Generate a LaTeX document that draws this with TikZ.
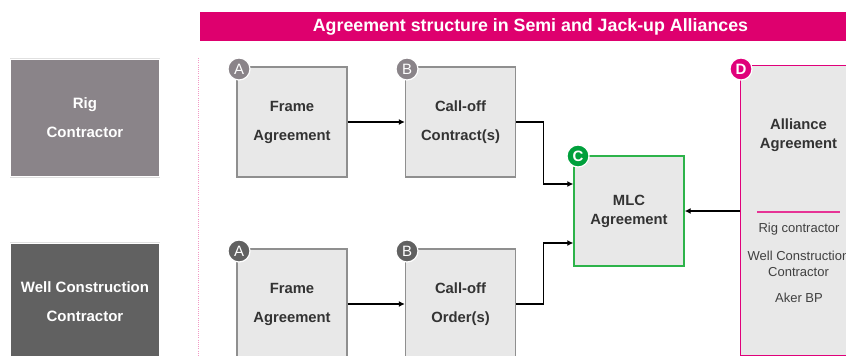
\documentclass[tikz,border=0pt]{standalone}
\usepackage{fontspec}
\setmainfont{Liberation Sans}
\usetikzlibrary{arrows.meta}
\definecolor{brandmag}{HTML}{DE006E}
\definecolor{allmag}{HTML}{E0007A}
\definecolor{rigcol}{HTML}{8A8489}
\definecolor{wellcol}{HTML}{616161}
\definecolor{boxfill}{HTML}{E8E8E8}
\definecolor{boxline}{HTML}{8F8F8F}
\definecolor{mlcgreen}{HTML}{2DB34A}
\definecolor{badgegreen}{HTML}{00A03C}
\tikzset{
  partybox/.style={minimum width=148pt, text=white, align=center,
    font=\fontsize{15}{29}\selectfont\bfseries, inner sep=0pt},
  docbox/.style={draw=boxline, line width=1.4pt, fill=boxfill,
    minimum width=110pt, minimum height=110pt, align=center, inner sep=0pt,
    font=\fontsize{14.8}{29}\selectfont\bfseries, text=black!80},
  badge/.style={circle, draw=white, line width=1.2pt, minimum size=22pt,
    inner sep=0pt, text=white, font=\fontsize{15}{15}\selectfont},
  conn/.style={line width=1.4pt, -{Latex[length=6pt,width=6pt]}},
  plain/.style={font=\fontsize{13}{16}\selectfont, text=black!75, align=center},
}
\begin{document}
\begin{tikzpicture}[x=1pt,y=-1pt]
\useasboundingbox (0,0) rectangle (846,356);
\clip (0,0) rectangle (846,356);

% title bar
\node[fill=brandmag, minimum width=646pt, minimum height=29pt, inner sep=0pt,
  anchor=north west] (titlebar) at (200,12) {};
\node[text=white, font=\fontsize{17.8}{20}\selectfont\bfseries] (title)
  at (530.5,27) {Agreement structure in Semi and Jack-up Alliances};

% parties on the left
\draw[black!12, line width=1pt] (10,58.5) -- (160,58.5);
\draw[black!12, line width=1pt] (10,177) -- (160,177);
\node[partybox, fill=rigcol, minimum height=116pt] (rig) at (85,118)
  {Rig\\Contractor};
\draw[black!12, line width=1pt] (10,242.5) -- (160,242.5);
\node[partybox, fill=wellcol, minimum height=115pt] (well) at (85,301.5)
  {Well Construction\\Contractor};

% separator
\draw[brandmag!40, line width=0.8pt, dash pattern=on 1pt off 1.2pt]
  (198.5,58) -- (198.5,356);

% rig contractor row
\node[docbox] (frame1) at (292,122) {Frame\\Agreement};
\node[docbox] (call1) at (460.5,122) {Call-off\\Contract(s)};
% well construction row
\node[docbox] (frame2) at (292,304) {Frame\\Agreement};
\node[docbox] (call2) at (460.5,304) {Call-off\\Order(s)};

% MLC agreement
\node[docbox, draw=mlcgreen, font=\fontsize{14.8}{19}\selectfont\bfseries]
  (mlc) at (629,211) {MLC\\Agreement};

% alliance agreement
\node[draw=allmag, line width=1.4pt, fill=boxfill, minimum width=118pt,
  minimum height=290pt, anchor=north west, inner sep=0pt] (alliance)
  at (740,65) {};
\node[font=\fontsize{14.8}{19}\selectfont\bfseries, text=black!80, align=center]
  (alltitle) at (798.5,135) {Alliance\\Agreement};
\draw[allmag!80, line width=1.4pt] (757,212) -- (840,212);
\node[plain] (p1) at (799,229) {Rig contractor};
\node[plain] (p2) at (798.5,263.5) {Well Construction\\Contractor};
\node[plain] (p3) at (799,297.5) {Aker BP};

% connectors
\draw[conn] (frame1) -- (call1);
\draw[conn] (frame2) -- (call2);
\draw[conn] (call1.east) -- ++(27,0) |- ([yshift=27pt]mlc.west);
\draw[conn] (call2.east) -- ++(27,0) |- ([yshift=-32pt]mlc.west);
\draw[conn] (alliance.west |- mlc.east) -- (mlc.east);

% badges
\node[badge, fill=rigcol] (ba1) at (239,69) {A};
\node[badge, fill=rigcol] (bb1) at (407,69) {B};
\node[badge, fill=wellcol] (ba2) at (239,251) {A};
\node[badge, fill=wellcol] (bb2) at (407,251) {B};
\node[badge, fill=badgegreen, font=\fontsize{15}{15}\selectfont\bfseries]
  (bc) at (578,156) {C};
\node[badge, fill=allmag, font=\fontsize{15}{15}\selectfont\bfseries]
  (bd) at (741,69) {D};
\end{tikzpicture}
\end{document}
